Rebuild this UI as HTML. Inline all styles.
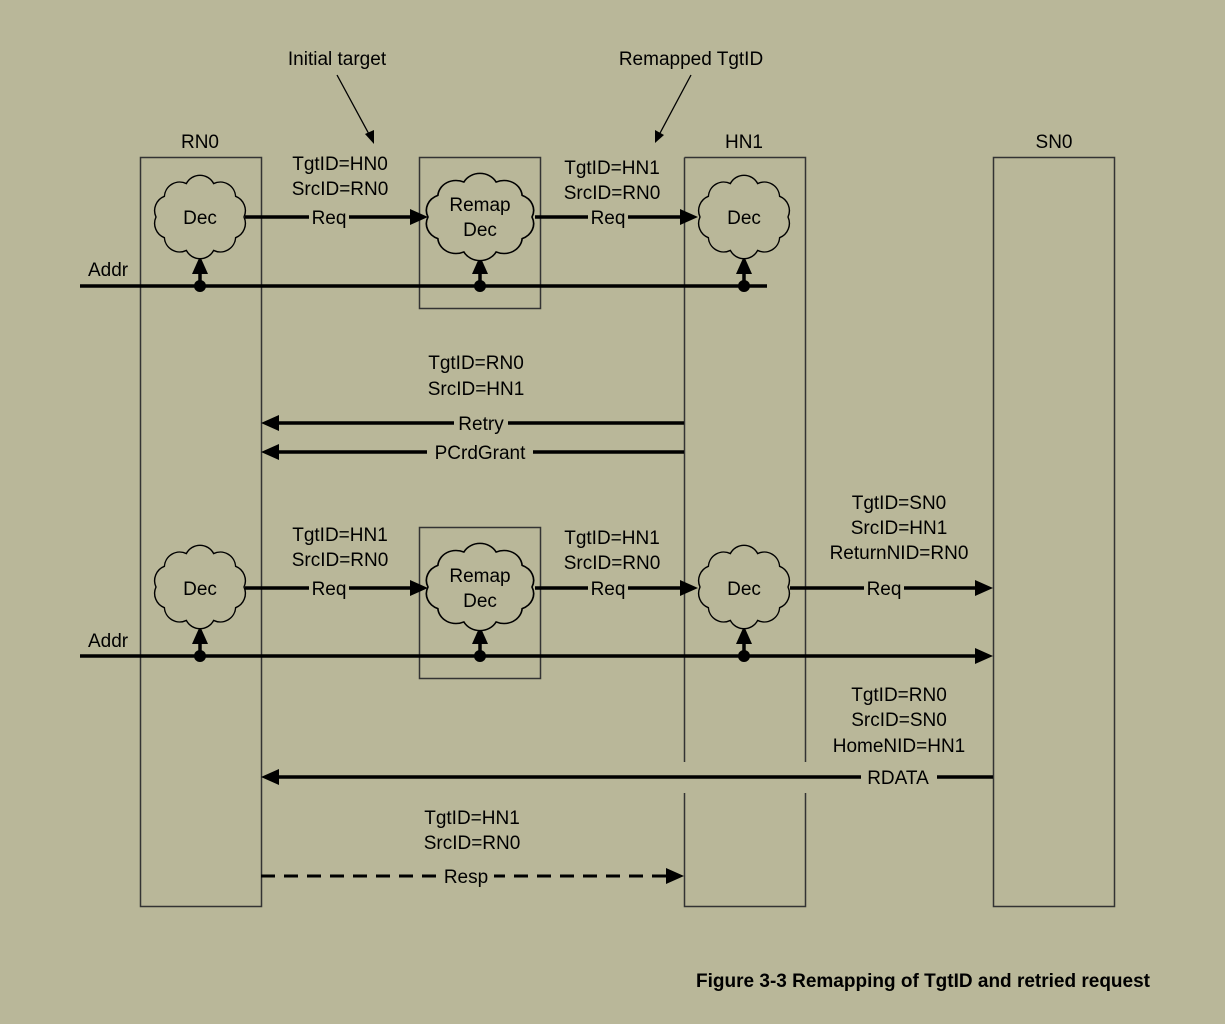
<!DOCTYPE html>
<html><head><meta charset="utf-8"><style>
html,body{margin:0;padding:0;background:#b9b799;}
svg{display:block;}
text{font-family:"Liberation Sans",Arial,sans-serif;font-size:19px;fill:#000;}
</style></head><body>
<svg width="1225" height="1024" viewBox="0 0 1225 1024" xmlns="http://www.w3.org/2000/svg">
<defs>
<path id="cl" d="M40,0 A14,14 0 0 1 32.4,18.8 A14,14 0 0 1 12.4,30.4 A14,14 0 0 1 -12.4,30.4 A14,14 0 0 1 -32.4,18.8 A14,14 0 0 1 -40,0 A14,14 0 0 1 -32.4,-18.8 A14,14 0 0 1 -12.4,-30.4 A14,14 0 0 1 12.4,-30.4 A14,14 0 0 1 32.4,-18.8 A14,14 0 0 1 40,0 Z" fill="#b9b799" stroke="#000" stroke-width="1.3"/>
</defs>
<rect x="0" y="0" width="1225" height="1024" fill="#b9b799"/>
<g fill="none" stroke="#333" stroke-width="1.5">
<rect x="140.5" y="157.5" width="121" height="749"/>
<rect x="419.5" y="157.5" width="121" height="151"/>
<rect x="419.5" y="527.5" width="121" height="151"/>
<path d="M684.5,157.5 H805.5 V762 M684.5,157.5 V762 M684.5,793 V906.5 H805.5 V793"/>
<rect x="993.5" y="157.5" width="121" height="749"/>
</g>
<g font-size="19">
<text x="200" y="148" text-anchor="middle">RN0</text>
<text x="744" y="148" text-anchor="middle">HN1</text>
<text x="1054" y="148" text-anchor="middle">SN0</text>
<text x="337" y="65" text-anchor="middle">Initial target</text>
<text x="691" y="65" text-anchor="middle">Remapped TgtID</text>
</g>
<g stroke="#000" stroke-width="1.3">
<line x1="337" y1="75" x2="370" y2="136"/>
<line x1="691" y1="75" x2="659" y2="135"/>
</g>
<polygon points="374,144 365,134 374,130" fill="#000"/>
<polygon points="655,143 655,130 664,135" fill="#000"/>
<g stroke="#000" stroke-width="3.5">
<line x1="80" y1="286" x2="767" y2="286"/>
<line x1="80" y1="656" x2="978" y2="656"/>
<line x1="245" y1="217" x2="412" y2="217"/>
<line x1="535" y1="217" x2="682" y2="217"/>
<line x1="245" y1="588" x2="412" y2="588"/>
<line x1="535" y1="588" x2="682" y2="588"/>
<line x1="790" y1="588" x2="978" y2="588"/>
<line x1="276" y1="423" x2="684" y2="423"/>
<line x1="276" y1="452" x2="684" y2="452"/>
<line x1="276" y1="777" x2="993" y2="777"/>
<line x1="261" y1="876" x2="668" y2="876" stroke-dasharray="14,9" stroke-width="3"/>
<line x1="200" y1="286" x2="200" y2="272"/><line x1="480" y1="286" x2="480" y2="272"/><line x1="744" y1="286" x2="744" y2="272"/>
<line x1="200" y1="656" x2="200" y2="642"/><line x1="480" y1="656" x2="480" y2="642"/><line x1="744" y1="656" x2="744" y2="642"/>
</g>
<g fill="#000">
<circle cx="200" cy="286" r="6"/><circle cx="480" cy="286" r="6"/><circle cx="744" cy="286" r="6"/>
<circle cx="200" cy="656" r="6"/><circle cx="480" cy="656" r="6"/><circle cx="744" cy="656" r="6"/>
<polygon points="200,256 192,274 208,274"/><polygon points="480,256 472,274 488,274"/><polygon points="744,256 736,274 752,274"/>
<polygon points="200,626 192,644 208,644"/><polygon points="480,626 472,644 488,644"/><polygon points="744,626 736,644 752,644"/>
<polygon points="428,217 410,209 410,225"/><polygon points="698,217 680,209 680,225"/>
<polygon points="428,588 410,580 410,596"/><polygon points="698,588 680,580 680,596"/><polygon points="993,588 975,580 975,596"/>
<polygon points="993,656 975,648 975,664"/>
<polygon points="261,423 279,415 279,431"/><polygon points="261,452 279,444 279,460"/><polygon points="261,777 279,769 279,785"/>
<polygon points="684,876 666,868 666,884"/>
</g>
<use href="#cl" transform="translate(200,217) scale(1.1,1.1)"/>
<use href="#cl" transform="translate(480,217) scale(1.3,1.15)"/>
<use href="#cl" transform="translate(744,217) scale(1.1,1.1)"/>
<use href="#cl" transform="translate(200,587) scale(1.1,1.1)"/>
<use href="#cl" transform="translate(480,587) scale(1.3,1.15)"/>
<use href="#cl" transform="translate(744,587) scale(1.1,1.1)"/>
<g text-anchor="middle">
<text x="200" y="224">Dec</text>
<text x="480" y="211">Remap</text><text x="480" y="236">Dec</text>
<text x="744" y="224">Dec</text>
<text x="200" y="595">Dec</text>
<text x="480" y="582">Remap</text><text x="480" y="607">Dec</text>
<text x="744" y="595">Dec</text>
<text x="340" y="170">TgtID=HN0</text><text x="340" y="195">SrcID=RN0</text>
<text x="612" y="174">TgtID=HN1</text><text x="612" y="199">SrcID=RN0</text>
<text x="476" y="369">TgtID=RN0</text><text x="476" y="395">SrcID=HN1</text>
<text x="340" y="541">TgtID=HN1</text><text x="340" y="566">SrcID=RN0</text>
<text x="612" y="544">TgtID=HN1</text><text x="612" y="569">SrcID=RN0</text>
<text x="899" y="509">TgtID=SN0</text><text x="899" y="534">SrcID=HN1</text><text x="899" y="559">ReturnNID=RN0</text>
<text x="899" y="701">TgtID=RN0</text><text x="899" y="726">SrcID=SN0</text><text x="899" y="752">HomeNID=HN1</text>
<text x="472" y="824">TgtID=HN1</text><text x="472" y="849">SrcID=RN0</text>
</g>
<g text-anchor="middle">
<rect x="309" y="207" width="40" height="20" fill="#b9b799"/><text x="329" y="224">Req</text>
<rect x="588" y="207" width="40" height="20" fill="#b9b799"/><text x="608" y="224">Req</text>
<rect x="309" y="578" width="40" height="20" fill="#b9b799"/><text x="329" y="595">Req</text>
<rect x="588" y="578" width="40" height="20" fill="#b9b799"/><text x="608" y="595">Req</text>
<rect x="864" y="578" width="40" height="20" fill="#b9b799"/><text x="884" y="595">Req</text>
<rect x="454" y="413" width="54" height="20" fill="#b9b799"/><text x="481" y="430">Retry</text>
<rect x="427" y="442" width="106" height="20" fill="#b9b799"/><text x="480" y="459">PCrdGrant</text>
<rect x="861" y="767" width="76" height="20" fill="#b9b799"/><text x="898" y="784">RDATA</text>
<rect x="438" y="866" width="56" height="20" fill="#b9b799"/><text x="466" y="883">Resp</text>
</g>
<text x="88" y="276">Addr</text>
<text x="88" y="647">Addr</text>
<text x="1150" y="987" text-anchor="end" font-weight="bold" font-size="21">Figure 3-3 Remapping of TgtID and retried request</text>
</svg>
</body></html>
